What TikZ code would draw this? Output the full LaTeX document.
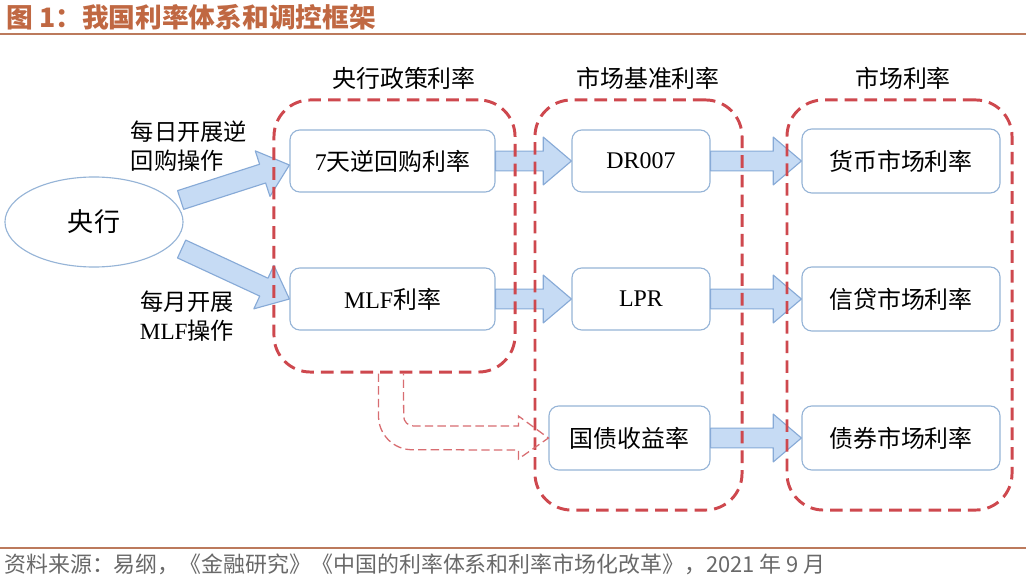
\documentclass[tikz,border=0pt]{standalone}
\usepackage{fontspec}
\setmainfont{Noto Sans CJK SC}
\newfontfamily\latinserif{Liberation Serif}
\usepackage{tikz}
\usetikzlibrary{calc,positioning,shapes.geometric}
\definecolor{titlecolor}{RGB}{192,104,66}
\definecolor{rulecolor}{RGB}{188,122,92}
\definecolor{boxline}{RGB}{150,180,215}
\definecolor{arrowfill}{RGB}{198,219,244}
\definecolor{arrowline}{RGB}{135,170,215}
\definecolor{groupred}{RGB}{206,72,78}
\definecolor{sourcegray}{RGB}{105,105,105}

% block arrow from #1 to #2
\newcommand{\fatarrow}[2]{%
  \path[draw=arrowline, fill=arrowfill, line width=0.8pt, line join=round]
    let \p1=(#1), \p2=(#2), \n1={atan2(\y2-\y1,\x2-\x1)}, \n2={veclen(\x2-\x1,\y2-\y1)} in
    (\p1) ++(\n1+90:7pt) -- ++(\n1:\n2-20pt) -- ++(\n1+90:10pt) -- (\p2)
    -- ($(\p2)+(\n1+180:20pt)+(\n1-90:17pt)$) -- ++(\n1+90:10pt) -- ++(\n1+180:\n2-20pt) -- cycle;}

\begin{document}
\begin{tikzpicture}[x=0.025cm, y=-0.025cm,
        box/.style={rectangle, rounded corners=7pt, draw=boxline, line width=0.8pt, fill=white, minimum height=1.55cm, font=\fontsize{17}{20}\selectfont},
        grp/.style={rectangle, rounded corners=26pt, draw=groupred, line width=2.1pt, dash pattern=on 9pt off 5pt, minimum height=10.25cm},
        grplbl/.style={font=\fontsize{17}{20}\selectfont},
        oplbl/.style={font=\fontsize{16.5}{21}\selectfont},
        hollow/.style={draw=groupred!80, line width=0.9pt, dash pattern=on 6pt off 3pt}
    ]
    \useasboundingbox (0,0) rectangle (1026,577);
    \fill[white] (0,0) rectangle (1026,577);

    % title and rules
    \node[anchor=west, inner sep=0pt, text=titlecolor, font=\fontsize{19}{22}\selectfont\bfseries] (title) at (6,17) {图 1：我国利率体系和调控框架};
    \draw[rulecolor, line width=2pt] (0,34) -- (1026,34);
    \draw[rulecolor, line width=2pt] (0,548) -- (1026,548);
    \node[anchor=west, inner sep=0pt, text=sourcegray, font=\fontsize{15.6}{18}\selectfont] (source) at (4,564) {资料来源：易纲，《金融研究》《中国的利率体系和利率市场化改革》，2021 年 9 月};

    \node[ellipse, draw=boxline, line width=0.8pt, fill=white, minimum width=4.45cm, minimum height=2.25cm, font=\fontsize{18.5}{20}\selectfont] (cb) at (94,222) {央行};

    \node[box, minimum width=5.125cm] (repo) at (392.5,161) {{\latinserif 7}天逆回购利率};
    \node[box, minimum width=5.125cm] (mlf) at (392.5,299) {{\latinserif MLF}利率};

    \node[box, minimum width=3.45cm] (dr) at (641,161) {\latinserif DR007};
    \node[box, minimum width=3.45cm] (lpr) at (641,299) {\latinserif LPR};
    \node[box, minimum width=4.025cm, minimum height=1.6cm] (tsy) at (629.5,438) {国债收益率};

    \node[box, minimum width=4.95cm, minimum height=1.6cm] (money) at (901,161) {货币市场利率};
    \node[box, minimum width=4.95cm, minimum height=1.6cm] (credit) at (901,299) {信贷市场利率};
    \node[box, minimum width=4.95cm, minimum height=1.6cm] (bond) at (901,438) {债券市场利率};

    \node[oplbl, align=left, anchor=west] (dailyop) at (126,146) {每日开展逆\\回购操作};
    \node[oplbl, align=center] (monthlyop) at (187,316) {每月开展\\{\latinserif MLF}操作};

    \fatarrow{$(cb.east)+(-3,-22)$}{$(repo.west)+(0,4)$}
    \fatarrow{$(cb.east)+(-2,27)$}{mlf.west}
    \fatarrow{repo.east}{dr.west}
    \fatarrow{mlf.east}{lpr.west}
    \fatarrow{dr.east}{money.west}
    \fatarrow{lpr.east}{credit.west}
    \fatarrow{tsy.east}{bond.west}

    \node[grp, minimum width=6.025cm, minimum height=6.8cm] (policy) at (394.5,236) {};
    \node[grp, minimum width=5.175cm] (bench) at (638.5,305) {};
    \node[grp, minimum width=5.625cm] (market) at (899.5,305) {};

    \node[grplbl] (policylbl) at (404,78) {央行政策利率};
    \node[grplbl] (benchlbl) at (648,78) {市场基准利率};
    \node[grplbl] (marketlbl) at (903,78) {市场利率};

    % dashed hollow arrow
    \draw[hollow] ($(policy.south)+(-16,0)$) -- ($(policy.south |- tsy.west)+(-16,-22)$)
        arc[start angle=180, end angle=270, radius=24pt] -- ($(tsy.west)+(-30,12)$) -- ++(0,9)
        -- (tsy.west) -- ++(-30,-22) -- ++(0,10) -- ($(policy.south |- tsy.west)+(19,-12)$)
        arc[start angle=270, end angle=180, radius=7pt] -- ($(policy.south)+(9,0)$);
\end{tikzpicture}
\end{document}
